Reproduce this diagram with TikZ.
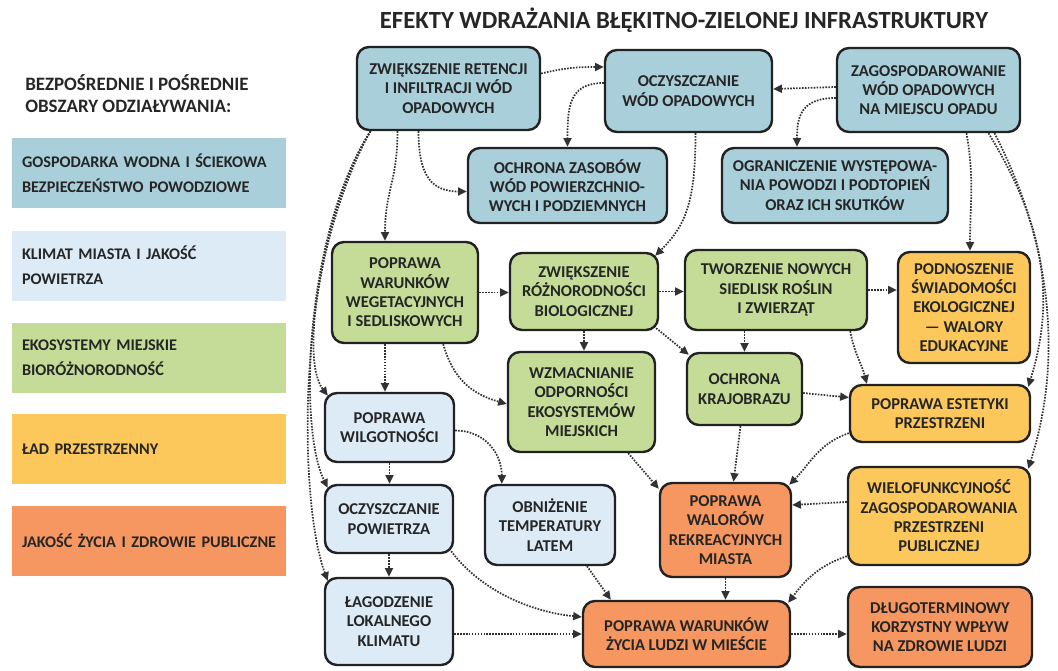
\documentclass[tikz,border=0pt]{standalone}
\usepackage{fontspec}
\setmainfont{Carlito}
\usetikzlibrary{arrows.meta,calc}

\begin{document}
\begin{tikzpicture}[x=0.75pt,y=0.75pt,yscale=-1,xscale=1,
  wh/.style 2 args={minimum width=#1*0.75pt,minimum height=#2*0.75pt},
  ink/.style={text={rgb, 255:red, 38; green, 38; blue, 38 }},
  box/.style={ink,draw={rgb, 255:red, 34; green, 34; blue, 34 },line width=1.8pt,rounded corners=9pt,
    align=center,inner sep=2pt,font=\fontsize{12.4}{14.5}\selectfont\bfseries},
  waterfill/.style={fill={rgb, 255:red, 168; green, 207; blue, 218 }},
  climfill/.style={fill={rgb, 255:red, 221; green, 235; blue, 247 }},
  ecofill/.style={fill={rgb, 255:red, 197; green, 220; blue, 152 }},
  spacefill/.style={fill={rgb, 255:red, 252; green, 200; blue, 92 }},
  lifefill/.style={fill={rgb, 255:red, 246; green, 150; blue, 96 }},
  water/.style={box,waterfill},
  climate/.style={box,climfill},
  eco/.style={box,ecofill},
  space/.style={box,spacefill},
  life/.style={box,lifefill},
  legend/.style={ink,minimum height=52.5pt,text width=190.5pt,inner xsep=7.5pt,inner ysep=0pt,
    align=left,font=\fontsize{12.2}{19}\selectfont\bfseries},
  link/.style={draw={rgb, 255:red, 50; green, 50; blue, 50 },line width=1.3pt,
    dash pattern={on 1.2pt off 1pt},-{Triangle[length=6.5pt,width=6pt]}}]
\useasboundingbox (0,0) rectangle (1058,671);

% Text Node
\node [ink,font=\fontsize{18.5}{22}\selectfont\bfseries] (title) at (684,20) {EFEKTY WDRAŻANIA BŁĘKITNO-ZIELONEJ INFRASTRUKTURY};
% Text Node
\node [ink,anchor=west,align=left,inner sep=0pt,font=\fontsize{14.2}{16.5}\selectfont\bfseries] (legtitle) at (25,94) {BEZPOŚREDNIE I POŚREDNIE\\OBSZARY ODZIAŁYWANIA:};

%Shape: Rectangle
\node [legend,waterfill] (legwater) at (149,173) {GOSPODARKA WODNA I ŚCIEKOWA\\BEZPIECZEŃSTWO POWODZIOWE};
%Shape: Rectangle
\node [legend,climfill] (legclimate) at (149,265.5) {KLIMAT MIASTA I JAKOŚĆ\\POWIETRZA};
%Shape: Rectangle
\node [legend,ecofill] (legeco) at (149,357.5) {EKOSYSTEMY MIEJSKIE\\BIORÓŻNORODNOŚĆ};
%Shape: Rectangle
\node [legend,spacefill] (legspace) at (149,449) {ŁAD PRZESTRZENNY};
%Shape: Rectangle
\node [legend,lifefill] (leglife) at (149,540.5) {\mbox{JAKOŚĆ ŻYCIA I ZDROWIE PUBLICZNE}};

%Rounded Rect
\node [water,wh={183}{83}] (retention) at (448.5,88.5) {ZWIĘKSZENIE RETENCJI\\I INFILTRACJI WÓD\\OPADOWYCH};
%Rounded Rect
\node [water,wh={167}{82}] (cleaning) at (688.5,91) {OCZYSZCZANIE\\WÓD OPADOWYCH};
%Rounded Rect
\node [water,wh={183}{84}] (onsite) at (928.5,90) {ZAGOSPODAROWANIE\\WÓD OPADOWYCH\\NA MIEJSCU OPADU};
%Rounded Rect
\node [water,wh={199}{75}] (resources) at (567.5,185.5) {OCHRONA ZASOBÓW\\WÓD POWIERZCHNIO-\\WYCH I PODZIEMNYCH};
%Rounded Rect
\node [water,wh={226}{75}] (floods) at (835,185.5) {OGRANICZENIE WYSTĘPOWA-\\NIA POWODZI I PODTOPIEŃ\\ORAZ ICH SKUTKÓW};
%Rounded Rect
\node [eco,wh={146}{101}] (vegetation) at (405,292.5) {POPRAWA\\WARUNKÓW\\WEGETACYJNYCH\\I SEDLISKOWYCH};
%Rounded Rect
\node [eco,wh={148}{77}] (biodiv) at (584,291.5) {ZWIĘKSZENIE\\RÓŻNORODNOŚCI\\BIOLOGICZNEJ};
%Rounded Rect
\node [eco,wh={182}{80}] (habitats) at (776,290) {TWORZENIE NOWYCH\\SIEDLISK ROŚLIN\\I ZWIERZĄT};
%Rounded Rect
\node [space,wh={132}{111}] (awareness) at (964,307.5) {PODNOSZENIE\\ŚWIADOMOŚCI\\EKOLOGICZNEJ\\— WALORY\\EDUKACYJNE};
%Rounded Rect
\node [eco,wh={147}{100}] (resilience) at (581.5,402) {WZMACNIANIE\\ODPORNOŚCI\\EKOSYSTEMÓW\\MIEJSKICH};
%Rounded Rect
\node [eco,wh={115}{72}] (landscape) at (744.5,389) {OCHRONA\\KRAJOBRAZU};
%Rounded Rect
\node [space,wh={180}{57}] (aesthetics) at (940,413.5) {POPRAWA ESTETYKI\\PRZESTRZENI};
%Rounded Rect
\node [climate,wh={129}{69}] (humidity) at (389.5,427.5) {POPRAWA\\WILGOTNOŚCI};
%Rounded Rect
\node [climate,wh={128}{68}] (aircleaning) at (389,519) {OCZYSZCZANIE\\POWIETRZA};
%Rounded Rect
\node [climate,wh={130}{80}] (cooling) at (550,525) {OBNIŻENIE\\TEMPERATURY\\LATEM};
%Rounded Rect
\node [climate,wh={128}{87}] (localclim) at (389,621.5) {ŁAGODZENIE\\LOKALNEGO\\KLIMATU};
%Rounded Rect
\node [life,wh={131}{94}] (recreation) at (725.5,530) {POPRAWA\\WALORÓW\\REKREACYJNYCH\\MIASTA};
%Rounded Rect
\node [space,wh={182}{98}] (multifun) at (939,516) {WIELOFUNKCYJNOŚĆ\\ZAGOSPODAROWANIA\\PRZESTRZENI\\PUBLICZNEJ};
%Rounded Rect
\node [life,wh={207}{66}] (living) at (686.5,634) {POPRAWA WARUNKÓW\\ŻYCIA LUDZI W MIEŚCIE};
%Rounded Rect
\node [life,wh={184}{80}] (health) at (940,627) {DŁUGOTERMINOWY\\KORZYSTNY WPŁYW\\NA ZDROWIE LUDZI};

%Curve Lines
\draw [link] ($(retention.east)+(0,-15)$) .. controls +(25,-6) and +(-25,0) .. ($(cleaning.west)+(0,-24)$);
\draw [link] ($(cleaning.west)+(0,-8)$) .. controls +(-35,0) and +(0,-40) .. (resources.north);
\draw [link] ($(retention.south)+(-30,0)$) .. controls +(0,45) and +(-35,0) .. ($(resources.west)+(0,6)$);
\draw [link] ($(retention.south)+(-51,0)$) .. controls +(0,50) and +(0,-50) .. ($(vegetation.north)+(-20,0)$);
\draw [link] ($(retention.south)+(-78,0)$) .. controls +(-45,80) and +(-30,-40) .. ($(humidity.north west)+(4,4)$);
\draw [link] ($(retention.south)+(-78,0)$) .. controls +(-65,100) and +(-30,-60) .. ($(aircleaning.north west)+(4,4)$);
\draw [link] ($(retention.south)+(-78,0)$) .. controls +(-75,120) and +(-30,-80) .. ($(localclim.north west)+(4,4)$);
%Straight Lines
\draw [link] ($(onsite.west)+(0,-3)$) -- ($(cleaning.east)+(0,-2)$);
%Curve Lines
\draw [link] ($(onsite.west)+(0,8)$) .. controls +(-35,0) and +(0,-30) .. ($(floods.north)+(-38,0)$);
\draw [link] ($(onsite.south)+(38,0)$) .. controls +(8,45) and +(0,-45) .. ($(awareness.north)+(6,0)$);
\draw [link] ($(onsite.south)+(60,0)$) .. controls +(55,90) and +(28,-90) .. ($(aesthetics.north east)+(-3,3)$);
\draw [link] ($(onsite.south)+(66,0)$) .. controls +(62,120) and +(32,-100) .. ($(multifun.north east)+(-3,3)$);
\draw [link] ($(cleaning.south)+(7,0)$) .. controls +(0,70) and +(30,-30) .. ($(biodiv.north east)+(-4,4)$);

%Straight Lines
\draw [link] ($(vegetation.south)+(-20,0)$) -- ($(humidity.north)+(-4.5,0)$);
\draw [link] (vegetation.east) -- (vegetation.east -| biodiv.west);
%Curve Lines
\draw [link] ($(vegetation.south east)+(-36,0)$) .. controls +(10,35) and +(-35,-10) .. ($(resilience.west)+(0,2)$);
%Straight Lines
\draw [link] (biodiv.east) -- (biodiv.east -| habitats.west);
\draw [link] (biodiv.south) -- (biodiv.south |- resilience.north);
\draw [link] ($(biodiv.south east)+(-3,-3)$) -- ($(landscape.north west)+(3,3)$);
\draw [link] (habitats.east) -- (habitats.east -| awareness.west);
\draw [link] (landscape.north |- habitats.south) -- (landscape.north);
%Curve Lines
\draw [link] ($(habitats.south east)+(-18,0)$) .. controls +(5,25) and +(-5,-20) .. ($(aesthetics.north west)+(18,0)$);
%Straight Lines
\draw [link] ($(landscape.east)+(0,4)$) -- ($(aesthetics.west)+(0,-16)$);

%Curve Lines
\draw [link] ($(humidity.east)+(0,3)$) .. controls +(30,0) and +(0,-30) .. ($(cooling.north west)+(18,0)$);
%Straight Lines
\draw [link] (humidity.south) -- (humidity.south |- aircleaning.north);
\draw [link] (aircleaning.south) -- (aircleaning.south |- localclim.north);
%Curve Lines
\draw [link] ($(aircleaning.south east)+(-3,-3)$) .. controls +(30,40) and +(-50,-5) .. ($(living.west)+(0,-17)$);
%Straight Lines
\draw [link] (localclim.east |- living.west) -- (living.west);
\draw [link] ($(cooling.south)+(37,0)$) -- ($(living.north west)+(29,0)$);
\draw [link] ($(resilience.south east)+(-28,0)$) -- ($(recreation.north west)+(0,7)$);
\draw [link] ($(landscape.south)+(-4,0)$) -- ($(recreation.north)+(8,0)$);
%Curve Lines
\draw [link] ($(aesthetics.south west)+(0,-10)$) .. controls +(-30,10) and +(20,-20) .. ($(recreation.north east)+(-3,3)$);
%Straight Lines
\draw [link] ($(multifun.west)+(0,-14)$) -- ($(recreation.east)+(0,-25)$);
%Curve Lines
\draw [link] ($(multifun.south west)+(0,-10)$) .. controls +(-30,10) and +(15,-20) .. ($(living.north east)+(-3,3)$);
%Straight Lines
\draw [link] (recreation.south) -- (recreation.south |- living.north);
\draw [link] (living.east) -- (living.east -| health.west);

\end{tikzpicture}
\end{document}
